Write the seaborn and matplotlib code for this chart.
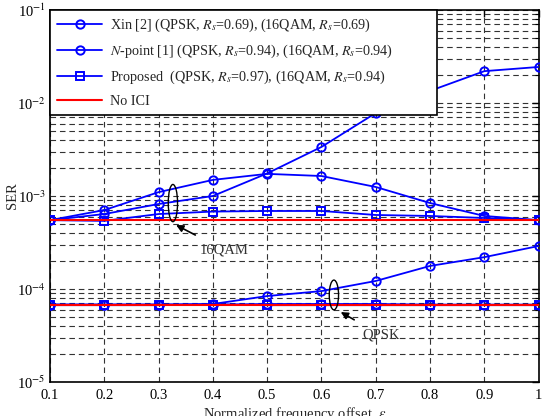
import numpy as np
import pandas as pd
import seaborn as sns
import matplotlib.pyplot as plt
from matplotlib.patches import Ellipse
from matplotlib.lines import Line2D
from matplotlib.ticker import LogLocator, NullFormatter, FuncFormatter

eps = [0.1, 0.2, 0.3, 0.4, 0.5, 0.6, 0.7, 0.8, 0.9, 1.0]

# 16QAM curves
xin_16qam = [5.5e-4, 7.06e-4, 1.10e-3, 1.49e-3, 1.73e-3, 1.64e-3, 1.25e-3, 8.4e-4, 6.1e-4, 5.5e-4]
npoint_16qam = [5.5e-4, 6.4e-4, 8.2e-4, 1.0e-3, 1.75e-3, 3.37e-3, 7.8e-3, 1.35e-2, 2.2e-2, 2.44e-2]
prop_16qam = [5.5e-4, 5.4e-4, 6.4e-4, 6.8e-4, 6.9e-4, 6.9e-4, 6.25e-4, 6.1e-4, 5.8e-4, 5.5e-4]
noici_16qam = [5.5e-4] * 10

# QPSK curves
xin_qpsk = [6.8e-5, 6.8e-5, 6.8e-5, 6.8e-5, 6.9e-5, 6.9e-5, 6.9e-5, 6.8e-5, 6.8e-5, 6.8e-5]
npoint_qpsk = [6.8e-5, 6.8e-5, 6.8e-5, 6.9e-5, 8.4e-5, 9.5e-5, 1.22e-4, 1.77e-4, 2.2e-4, 2.9e-4]
prop_qpsk = [6.7e-5, 6.7e-5, 6.7e-5, 6.8e-5, 6.7e-5, 6.7e-5, 6.7e-5, 6.7e-5, 6.7e-5, 6.7e-5]
noici_qpsk = [6.73e-5] * 10

labels = ["Xin [2] (QPSK, $R_s$=0.69), (16QAM, $R_s$=0.69)",
          "$N$-point [1] (QPSK, $R_s$=0.94), (16QAM, $R_s$=0.94)",
          "Proposed  (QPSK, $R_s$=0.97), (16QAM, $R_s$=0.94)",
          "No ICI"]

sns.set_style("white")
plt.rcParams['font.family'] = ['Liberation Serif', 'DejaVu Serif']
plt.rcParams['mathtext.fontset'] = 'stix'

fig = plt.figure(figsize=(5.52, 4.16), dpi=100)
ax = fig.add_axes([0.0906, 0.0817, 0.8852, 0.8943])

blue = '#0000FF'
red = '#FF0000'

series = [(xin_16qam, 'o'), (npoint_16qam, 'o'), (prop_16qam, 's'),
          (xin_qpsk, 'o'), (npoint_qpsk, 'o'), (prop_qpsk, 's')]
for vals, mk in series:
    sns.lineplot(x=eps, y=vals, ax=ax, color=blue, lw=1.3, marker=mk, markersize=6,
                 markerfacecolor='none', markeredgecolor=blue, markeredgewidth=1.4,
                 legend=False, zorder=4)

for vals in [noici_16qam, noici_qpsk]:
    sns.lineplot(x=eps, y=vals, ax=ax, color=red, lw=1.5, legend=False, zorder=5)

ax.set_yscale('log')
ax.set_xlim(0.1, 1.0)
ax.set_ylim(1e-5, 1e-1)
ax.set_xticks(eps)
ax.set_xticklabels(['0.1', '0.2', '0.3', '0.4', '0.5', '0.6', '0.7', '0.8', '0.9', '1'])
ax.yaxis.set_major_formatter(FuncFormatter(lambda v, p: '10$^{%d}$' % round(np.log10(v))))
ax.yaxis.set_minor_locator(LogLocator(base=10, subs=np.arange(2, 10)))
ax.yaxis.set_minor_formatter(NullFormatter())

grid_kw = dict(color='#333333', linestyle=(0, (5, 3.5)), linewidth=0.8)
ax.grid(True, which='major', axis='both', **grid_kw)
ax.grid(True, which='minor', axis='y', **grid_kw)

ax.tick_params(which='both', direction='in', top=True, right=True, labelsize=10.5, colors='black')
ax.tick_params(which='major', length=5, width=1, pad=5)
ax.tick_params(axis='y', which='major', pad=3)
ax.tick_params(which='minor', length=3, width=0.8)
for sp in ax.spines.values():
    sp.set_color('black')
    sp.set_linewidth(1.2)

ax.set_ylabel('SER', fontsize=10.5)
ax.yaxis.set_label_coords(-0.064, 0.5)
ax.set_xlabel('Normalized frequency offset, $\\epsilon$', fontsize=10.5, labelpad=2)

# annotations
ax.add_patch(Ellipse((0.2515, 0.481), 0.019, 0.1, transform=ax.transAxes,
                     fill=False, edgecolor='black', lw=1, zorder=6))
ax.annotate('16QAM', xy=(0.258, 0.422), xycoords='axes fraction',
            xytext=(0.356, 0.355), textcoords='axes fraction', fontsize=10.5,
            ha='center', va='center', color='#333333',
            arrowprops=dict(arrowstyle='-|>', color='black', lw=1.2, shrinkA=8, shrinkB=0))
ax.add_patch(Ellipse((0.581, 0.234), 0.019, 0.08, transform=ax.transAxes,
                     fill=False, edgecolor='black', lw=1, zorder=6))
ax.annotate('QPSK', xy=(0.595, 0.188), xycoords='axes fraction',
            xytext=(0.677, 0.126), textcoords='axes fraction', fontsize=10.5,
            ha='center', va='center', color='#333333',
            arrowprops=dict(arrowstyle='-|>', color='black', lw=1.2, shrinkA=8, shrinkB=0))

mk_kw = dict(markersize=6, markerfacecolor='none', markeredgewidth=1.4)
handles = [Line2D([], [], color=blue, lw=1.3, marker='o', **mk_kw),
           Line2D([], [], color=blue, lw=1.3, marker='o', **mk_kw),
           Line2D([], [], color=blue, lw=1.3, marker='s', **mk_kw),
           Line2D([], [], color=red, lw=1.5)]
leg_h = 100 / 372
leg = ax.legend(handles, labels, loc='upper left', bbox_to_anchor=(0, 1 - leg_h, 0.793, leg_h),
                mode='expand', borderaxespad=0,
                fontsize=10.2, frameon=True, fancybox=False, edgecolor='black', framealpha=1,
                handlelength=3.2, labelspacing=0.6, borderpad=0.5, handletextpad=0.5)
leg.get_frame().set_linewidth(1.2)
leg.set_zorder(10)

fig.savefig('out.png', dpi=100)
